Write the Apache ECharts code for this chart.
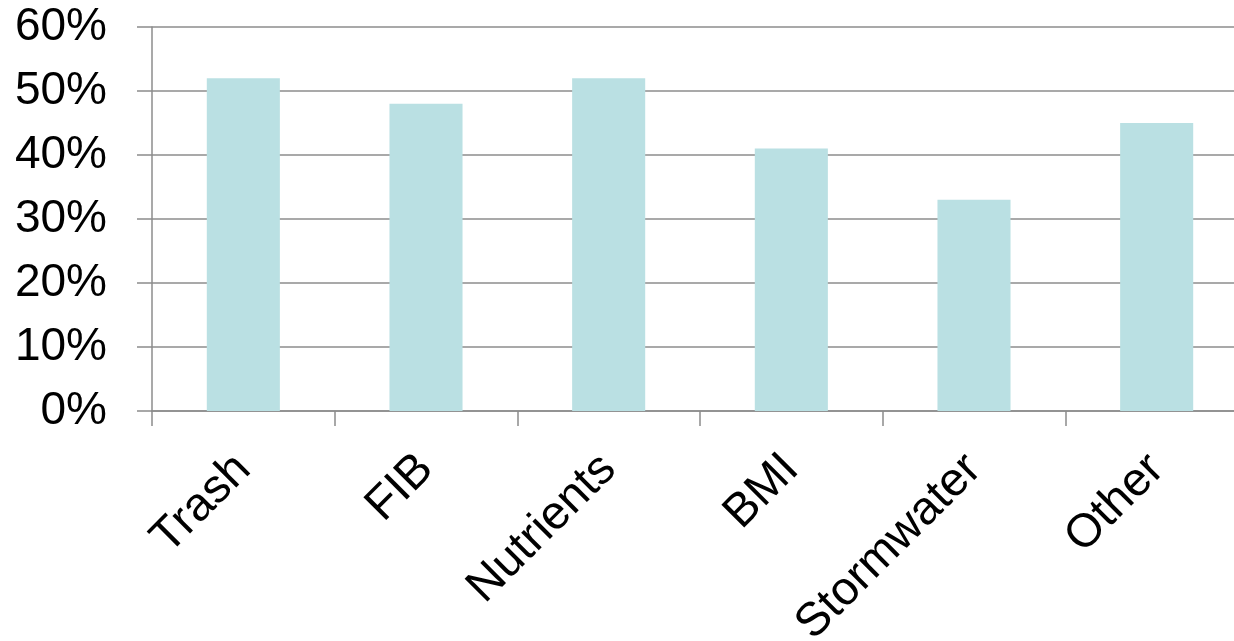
<!DOCTYPE html>
<html>
<head>
<meta charset="utf-8">
<script src="https://cdn.jsdelivr.net/npm/echarts@6/dist/echarts.min.js"></script>
<style>
  html, body { margin: 0; padding: 0; background: #fff; }
  /* the source chart is cut off at the right edge, so the drawing area runs past the frame */
  #frame { width: 1234px; height: 641px; overflow: hidden; position: relative; }
  #chart { width: 1248px; height: 641px; position: absolute; left: 0; top: 0; }
</style>
</head>
<body>
<div id="frame"><div id="chart"></div></div>
<script>
const categories = ['Trash', 'FIB', 'Nutrients', 'BMI', 'Stormwater', 'Other']
const values = [52, 48, 52, 41, 33, 45]

const myChart = echarts.init(document.getElementById('chart'))

// gray axis and grid lines like the office chart
const lineStyle = { color: '#8c8c8c', width: 1.5 }

const option = {
  animation: false,
  textStyle: { fontFamily: 'Liberation Sans, Arial, sans-serif' },
  // labels are allowed to run off the bottom, so keep the grid where it is
  grid: { left: 152, right: 0, top: 27, bottom: 230, containLabel: false, outerBoundsMode: 'none' },
  xAxis: {
    type: 'category',
    data: categories,
    axisLine: { show: true, lineStyle: lineStyle },
    axisTick: { show: true, length: 15, lineStyle: lineStyle },
    axisLabel: { rotate: 45, fontSize: 47, color: '#000', margin: 51, interval: 0 }
  },
  yAxis: {
    type: 'value',
    min: 0,
    max: 60,
    interval: 10,
    axisLine: { show: true, lineStyle: lineStyle },
    axisTick: { show: true, length: 15, lineStyle: lineStyle },
    splitLine: { show: true, lineStyle: lineStyle },
    axisLabel: { fontSize: 46, color: '#000', margin: 45, formatter: '{value}%' }
  },
  series: [
    {
      type: 'bar',
      data: values,
      barWidth: '40%',
      itemStyle: { color: '#bae0e3' }
    }
  ]
}

myChart.setOption(option)
</script>
</body>
</html>
